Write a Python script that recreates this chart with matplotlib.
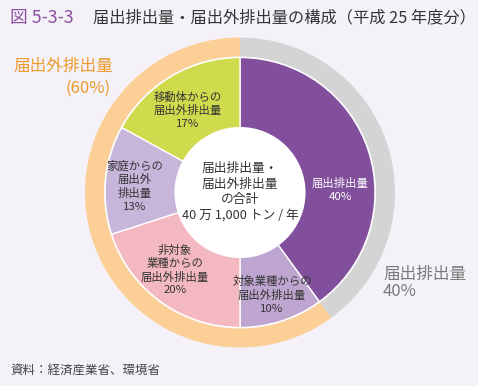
import matplotlib
matplotlib.use("Agg")
import matplotlib.pyplot as plt
from matplotlib.patches import Circle

plt.rcParams['font.family'] = ['Noto Sans CJK JP', 'DejaVu Sans']

# ---- データ ----
outer_labels = ["届出排出量", "届出外排出量"]
outer_values = [40, 60]
outer_colors = ["#d4d4d4", "#fbcf96"]

inner_labels = ["届出排出量\n40%",
                "対象業種からの\n届出外排出量\n10%",
                "非対象\n業種からの\n届出外排出量\n20%",
                "家庭からの\n届出外\n排出量\n13%",
                "移動体からの\n届出外排出量\n17%"]
inner_values = [40, 10, 20, 13, 17]
inner_colors = ["#814f9c", "#bfa6d0", "#f4b9c0", "#c8b5da", "#cfdb4c"]
inner_text_colors = ["white", "#333333", "#333333", "#333333", "#333333"]

BG = "#f4f2f8"
W, H = 478, 386
cx, cy, R = 240, 192.5, 155

fig = plt.figure(figsize=(W / 100, H / 100), dpi=100, facecolor=BG)

# 円グラフ用の軸 (R = 1)
ax = fig.add_axes([(cx - R) / W, (H - cy - R) / H, 2 * R / W, 2 * R / H])
ax.set_facecolor(BG)
ax.pie(outer_values, radius=1.0, startangle=90, counterclock=False,
       colors=outer_colors, wedgeprops=dict(width=19 / R, linewidth=0))
r_in = 135 / R
r_hole = 64 / R
ax.pie(inner_values, radius=r_in, startangle=90, counterclock=False,
       colors=inner_colors,
       wedgeprops=dict(width=r_in - r_hole, edgecolor="white", linewidth=1))
ax.add_patch(Circle((0, 0), r_hole + 0.01, facecolor="white", edgecolor="none", zorder=5))
ax.set_xlim(-1, 1)
ax.set_ylim(-1, 1)
ax.axis("off")

# テキスト用オーバーレイ (ピクセル座標)
tx = fig.add_axes([0, 0, 1, 1], facecolor="none")
tx.set_xlim(0, W)
tx.set_ylim(H, 0)
tx.axis("off")

tx.text(10, 18, "図 5-3-3", color="#8a4f9f", fontsize=12.8, va="center", ha="left")
tx.text(93, 18, "届出排出量・届出外排出量の構成（平成 25 年度分）", color="#333333",
        fontsize=11.7, va="center", ha="left")

# 内側ラベル位置
label_pos = [(340, 190), (272, 295), (175, 270), (135, 186), (188, 110)]
for lab, (x, y), c in zip(inner_labels, label_pos, inner_text_colors):
    tx.text(x, y, lab, ha="center", va="center", fontsize=8.2, color=c,
            linespacing=1.3, zorder=10)

tx.text(240, 192, "届出排出量・\n届出外排出量\nの合計\n40 万 1,000 トン / 年",
        ha="center", va="center", fontsize=9.2, color="#333333", linespacing=1.25, zorder=10)

tx.text(113, 66, "届出外排出量", ha="right", va="center", fontsize=12, color="#ec9a2a")
tx.text(111, 88, "(60%)", ha="right", va="center", fontsize=12, color="#ec9a2a")
tx.text(383, 283, "届出排出量\n40%", ha="left", va="center", fontsize=12,
        color="#7a7a7a", linespacing=1.05)

tx.text(10, 370, "資料：経済産業省、環境省", ha="left", va="center", fontsize=9, color="#444444")

fig.savefig("out.png", dpi=100, facecolor=BG)
